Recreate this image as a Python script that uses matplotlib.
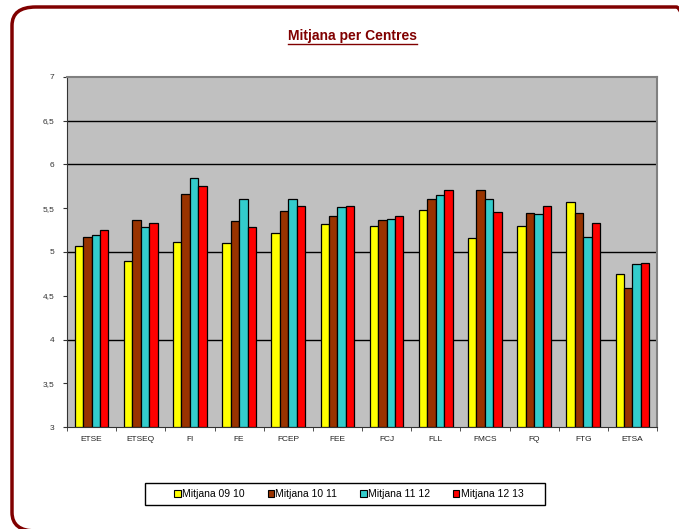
import matplotlib
matplotlib.use("Agg")
import matplotlib.pyplot as plt
import numpy as np
from matplotlib.patches import FancyBboxPatch, Rectangle
from matplotlib.lines import Line2D

categories = ["ETSE", "ETSEQ", "FI", "FE", "FCEP", "FEE", "FCJ", "FLL", "FMCS", "FQ", "FTG", "ETSA"]
series_names = ["Mitjana 09 10", "Mitjana 10 11", "Mitjana 11 12", "Mitjana 12 13"]
m0910 = [5.07, 4.90, 5.11, 5.10, 5.22, 5.32, 5.30, 5.48, 5.16, 5.30, 5.57, 4.75]
m1011 = [5.17, 5.36, 5.66, 5.35, 5.47, 5.41, 5.36, 5.60, 5.71, 5.45, 5.44, 4.59]
m1112 = [5.19, 5.28, 5.84, 5.60, 5.60, 5.51, 5.38, 5.65, 5.61, 5.43, 5.17, 4.86]
m1213 = [5.25, 5.33, 5.75, 5.28, 5.53, 5.53, 5.41, 5.71, 5.46, 5.53, 5.33, 4.87]
yticks = [3, 3.5, 4, 4.5, 5, 5.5, 6, 6.5, 7]
ytick_labels = ["3", "3,5", "4", "4,5", "5", "5,5", "6", "6,5", "7"]
grid_values = [4, 5, 6, 6.5]
colors = ["#FFFF00", "#993300", "#33CCCC", "#FF0000"]

plt.rcParams['font.family'] = ['Liberation Sans', 'DejaVu Sans']

W, H = 679, 529
fig = plt.figure(figsize=(W / 100, H / 100), dpi=100)
fig.patch.set_facecolor("white")

# rounded frame
frame = FancyBboxPatch((12 / W, 1 - 531 / H), (700 - 12) / W, (531 - 7) / H,
                       boxstyle="round,pad=0,rounding_size=0.035",
                       transform=fig.transFigure, facecolor="none",
                       edgecolor="#800000", linewidth=2.5, clip_on=False)
fig.patches.append(frame)

ax = fig.add_axes([67 / W, 1 - 427.3 / H, (657 - 67) / W, (427.3 - 76.7) / H])
ax.set_facecolor("#C0C0C0")
ax.set_xlim(0, len(categories))
ax.set_ylim(3, 7)

for g in grid_values:
    ax.axhline(g, color="black", linewidth=1.0, zorder=1)

x = np.arange(len(categories)) + 0.5
bw = 0.172
data = [m0910, m1011, m1112, m1213]
for i, (vals, c, name) in enumerate(zip(data, colors, series_names)):
    pos = x + (i - 1.5) * bw
    ax.bar(pos + 0.02, np.array(vals) - 3, bottom=3, width=bw, color="#555555",
           linewidth=0, zorder=2, alpha=0.6)
    ax.bar(pos, np.array(vals) - 3, bottom=3, width=bw, color=c, edgecolor="black",
           linewidth=0.9, zorder=3, label=name)

ax.set_yticks(yticks)
ax.set_yticklabels(ytick_labels, fontsize=6, color="#333333")
ax.set_xticks(x)
ax.set_xticklabels(categories, fontsize=6, color="#222222")
ax.tick_params(axis="x", length=0, pad=6)
ax.set_xticks(np.arange(len(categories) + 1), minor=True)
ax.tick_params(axis="x", which="minor", length=3, direction="out", color="#333333")
ax.tick_params(axis="y", length=3, direction="out", pad=6, color="#333333")
for s in ["top", "right"]:
    ax.spines[s].set_color("#808080")
    ax.spines[s].set_linewidth(1.5)
ax.spines["left"].set_color("#333333")
ax.spines["bottom"].set_color("#333333")

# title with underline
title = fig.text(352 / W, 1 - 36 / H, "Mitjana per Centres", ha="center", va="center",
                 fontsize=10, fontweight="bold", color="#800000")
fig.canvas.draw()
bb = title.get_window_extent(renderer=fig.canvas.get_renderer())
inv = fig.transFigure.inverted()
(x0, y0), (x1, y1) = inv.transform([[bb.x0, bb.y0], [bb.x1, bb.y0]])
fig.lines.append(Line2D([x0, x1], [y0 - 1 / H, y0 - 1 / H], transform=fig.transFigure,
                        color="#800000", linewidth=1))

# legend box drawn manually
fig.patches.append(Rectangle((145 / W, 1 - 505 / H), 400 / W, 22 / H,
                             transform=fig.transFigure, facecolor="white",
                             edgecolor="black", linewidth=1.0, zorder=-1))
leg = ax.legend(loc="center", bbox_to_anchor=(349 / W, 1 - 494 / H),
                bbox_transform=fig.transFigure, ncol=4, fontsize=7.5,
                frameon=False,
                handlelength=0.6, handleheight=0.6, handletextpad=0.15,
                columnspacing=2.2, borderpad=0.2)
for h in leg.legend_handles:
    h.set_linewidth(0.8)

fig.savefig("out.png", dpi=100)
